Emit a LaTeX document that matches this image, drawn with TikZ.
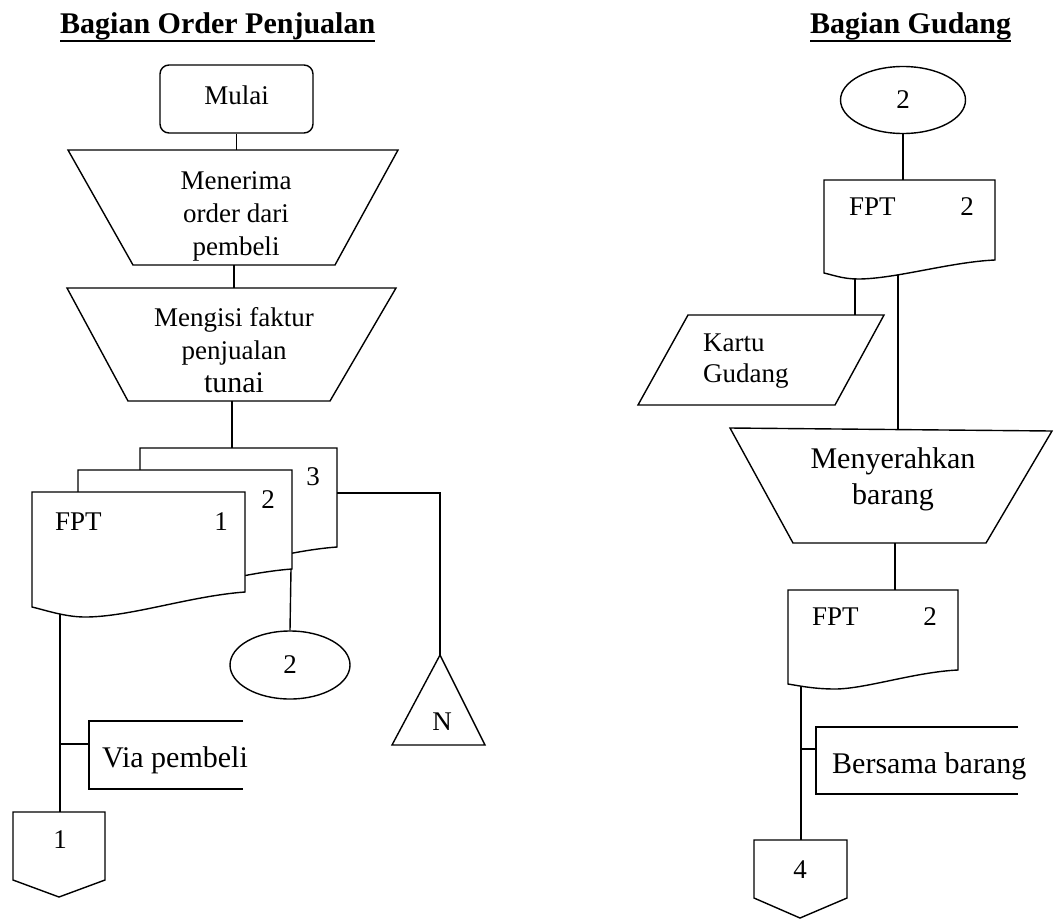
\documentclass[tikz,border=0pt]{standalone}
\usepackage{fontspec}
\setmainfont{Liberation Serif}
\usetikzlibrary{shapes.geometric}
\newcommand\txtn{\fontsize{27}{32}\selectfont}
\newcommand\txtm{\fontsize{27}{33}\selectfont}
\newcommand\txtk{\fontsize{27}{31}\selectfont}
\newcommand\txtb{\fontsize{30}{36}\selectfont}
\newcommand\ttlfont{\fontsize{30}{36}\selectfont\bfseries}
\begin{document}
\begin{tikzpicture}[x=1pt,y=-1pt,
  ln/.style={line width=1.4pt, line join=miter},
  shp/.style={ln, draw=black, fill=white},
  lbl/.style={inner sep=0pt, font=\txtn},
  lblb/.style={inner sep=0pt, font=\txtb},
  ttl/.style={inner sep=0pt, font=\ttlfont, anchor=base west}]
\useasboundingbox (0,0) rectangle (1056,921);

% ---------- column titles ----------
\node[ttl] (ttlA) at (60,33) {Bagian Order Penjualan};
\draw[line width=1.3pt] ([yshift=-8pt]ttlA.base west) -- ([yshift=-8pt]ttlA.base east);
\node[ttl] (ttlB) at (810,33) {Bagian Gudang};
\draw[line width=1.3pt] ([yshift=-8pt]ttlB.base west) -- ([yshift=-8pt]ttlB.base east);

% ================= Bagian Order Penjualan =================
% start terminal
\node[shp, rounded corners=9pt, minimum width=153pt, minimum height=68pt,
      font=\txtn, text depth=8pt] (mulai) at (236.5,99) {Mulai};

% manual operation: receive order
\draw[shp] (68,150) -- (398,150) -- (335,265) -- (133,265) -- cycle;
\coordinate (t1n) at (236.5,150);
\coordinate (t1s) at (234,265);
\node[inner sep=0pt, font=\txtm, align=center] (t1txt) at (236,216) {Menerima\\order dari\\pembeli};

% manual operation: fill in the invoice
\draw[shp] (67,288) -- (396,288) -- (330,401) -- (128,401) -- cycle;
\coordinate (t2n) at (234,288);
\coordinate (t2s) at (232,401);
\node[inner sep=0pt, font=\txtm, align=center] (t2txt) at (234,350) {Mengisi faktur\\penjualan\\{\txtb tunai}};

% invoice copies 3, 2, 1 (back to front)
\draw[shp] (140,562) -- (140,448) -- (337,448) -- (337,547)
  .. controls (282,551) and (222,572) .. (193,572)
  .. controls (173,572) and (153,565) .. (140,562) -- cycle;
\coordinate (d3n) at (232,448);
\coordinate (d3e) at (337,493);
\draw[shp] (78,584) -- (78,470) -- (292,470) -- (292,569)
  .. controls (237,573) and (177,594) .. (131,594)
  .. controls (111,594) and (91,587) .. (78,584) -- cycle;
\coordinate (d2s) at (291,569);
\draw[shp] (32,607) -- (32,492) -- (245,492) -- (245,592)
  .. controls (190,596) and (130,617) .. (85,617)
  .. controls (65,617) and (45,610) .. (32,607) -- cycle;
\coordinate (d1s) at (60,614);
\node[lbl, anchor=base west] (fpt1) at (55,530) {FPT};
\node[lbl, anchor=base] (no1) at (221,530) {1};
\node[lbl, anchor=base] (no2) at (268,508) {2};
\node[lbl, anchor=base] (no3) at (313,485) {3};

% on-page connector 2
\node[ellipse, ln, draw, fill=white, minimum width=120pt, minimum height=68pt,
      inner sep=0pt, font=\txtn] (c2a) at (290,665) {2};

% archive N
\draw[shp] (440,655) -- (485,745) -- (392,745) -- cycle;
\coordinate (arcN) at (440,655);
\node[lbl, anchor=base] (ntxt) at (442,730) {N};

% annotation: via pembeli
\draw[ln] (243,721) -- (89,721) -- (89,789) -- (243,789);
\coordinate (vpL) at (89,744);
\coordinate (vpJ) at (60,744);
\node[lblb, anchor=base west] (vptxt) at (102,767) {Via pembeli};

% off-page connector 1
\draw[shp] (13,812) -- (105,812) -- (105,880) -- (59,897) -- (13,880) -- cycle;
\coordinate (off1) at (60,812);
\node[lbl, anchor=base] (off1txt) at (60,848) {1};

% flow lines
\draw[ln] (mulai.south) -- (t1n);
\draw[ln] (t1s) -- (t2n);
\draw[ln] (t2s) -- (d3n);
\draw[ln] (d3e) -- (440,493) -- (arcN);
\draw[ln] (d2s) -- (c2a.north);
\draw[ln] (d1s) -- (off1);
\draw[ln] (vpJ) -- (vpL);

% ================= Bagian Gudang =================
\node[ellipse, ln, draw, fill=white, minimum width=125pt, minimum height=67pt,
      inner sep=0pt, font=\txtn] (c2b) at (903,100) {2};

% invoice copy 2 received
\draw[shp] (824,273) -- (824,180) -- (995,180) -- (995,260)
  .. controls (950,262) and (895,279) .. (858,279)
  .. controls (843,279) and (833,275) .. (824,273) -- cycle;
\coordinate (r1n) at (903,180);
\coordinate (r1sa) at (855,278);
\coordinate (r1sb) at (898,275);
\node[lbl, anchor=base west] (fptr1) at (849,215) {FPT};
\node[lbl, anchor=base] (nor1) at (967,215) {2};

% stock card
\draw[shp] (688,315) -- (884,315) -- (835,405) -- (638,405) -- cycle;
\coordinate (kgn) at (855,315);
\node[inner sep=0pt, font=\txtk, align=left, anchor=west] (kgtxt) at (703,361.5) {Kartu\\Gudang};

% manual operation: hand over goods
\draw[shp] (730,428) -- (1052,431) -- (986,543) -- (793,543) -- cycle;
\coordinate (t3n) at (898,429.5);
\coordinate (t3s) at (895,543);
\node[lblb, align=center] (t3txt) at (893,479.5) {Menyerahkan\\barang};

% invoice copy 2 handed on
\draw[shp] (788,684) -- (788,590) -- (958,590) -- (958,670)
  .. controls (915,672) and (865,689) .. (835,689)
  .. controls (815,689) and (800,686) .. (788,684) -- cycle;
\coordinate (r2n) at (895,590);
\coordinate (r2s) at (801,687);
\node[lbl, anchor=base west] (fptr2) at (812,625) {FPT};
\node[lbl, anchor=base] (nor2) at (930,625) {2};

% annotation: bersama barang
\draw[ln] (1018,727) -- (816,727) -- (816,794) -- (1018,794);
\coordinate (bbL) at (816,749);
\coordinate (bbJ) at (801,749);
\node[lblb, anchor=base west] (bbtxt) at (832,773) {Bersama barang};

% off-page connector 4
\draw[shp] (754,840) -- (847,840) -- (847,898) -- (800,918) -- (754,898) -- cycle;
\coordinate (off4) at (801,840);
\node[lbl, anchor=base] (off4txt) at (800,878) {4};

% flow lines
\draw[ln] (c2b.south) -- (r1n);
\draw[ln] (r1sa) -- (kgn);
\draw[ln] (r1sb) -- (t3n);
\draw[ln] (t3s) -- (r2n);
\draw[ln] (r2s) -- (off4);
\draw[ln] (bbJ) -- (bbL);
\end{tikzpicture}
\end{document}
